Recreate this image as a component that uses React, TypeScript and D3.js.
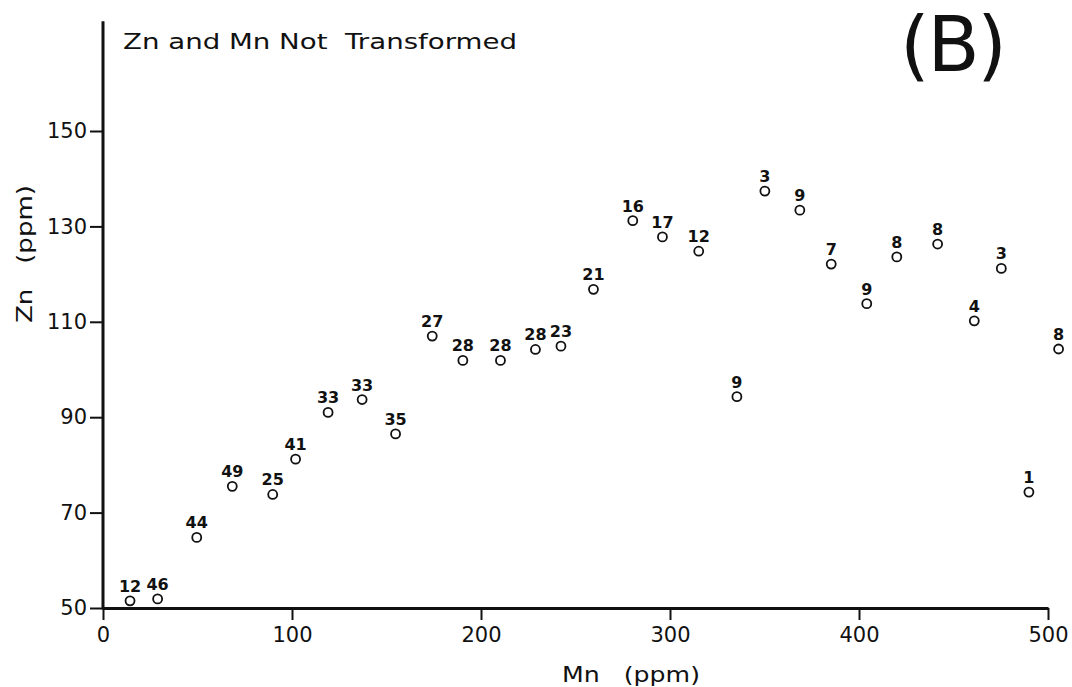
import React, { useEffect, useRef } from 'react';
import * as d3 from 'd3';

// Mn (ppm), Zn (ppm) and number of samples for each plotted mean
const mnValues = [
  14.3, 28.9, 49.6, 68.4, 89.8, 101.9, 119.1, 137.1, 154.8, 174.2, 190.4, 210.3, 228.8, 242.3, 259.5,
  280.3, 296, 315.2, 335.4, 350.2, 368.7, 385.3, 404.1, 420, 441.6, 461, 475.3, 489.9, 505.6,
];
const znValues = [
  51.5, 51.9, 64.8, 75.5, 73.8, 81.2, 91.0, 93.7, 86.5, 107.0, 101.9, 101.9, 104.2, 104.9, 116.8,
  131.2, 127.8, 124.8, 94.3, 137.4, 133.4, 122.1, 113.8, 123.6, 126.3, 110.2, 121.2, 74.3, 104.3,
];
const sampleCounts = [
  12, 46, 44, 49, 25, 41, 33, 33, 35, 27, 28, 28, 28, 23, 21, 16, 17, 12, 9, 3, 9, 7, 9, 8, 8, 4, 3, 1, 8,
];

const xTicks = [0, 100, 200, 300, 400, 500];
const yTicks = [50, 70, 90, 110, 130, 150];

const FONT = "'DejaVu Sans', 'Liberation Sans', sans-serif";

const App = () => {
  const svgRef = useRef<SVGSVGElement>(null);

  useEffect(() => {
    drawChart(svgRef);
  }, [svgRef]);

  return (
    <div style={{ position: 'fixed', left: 0, top: 0, background: '#fff' }}>
      <svg ref={svgRef} width={1072} height={687} style={{ display: 'block' }}></svg>
    </div>
  );
};

function drawChart(svgRef: React.RefObject<SVGSVGElement>) {
  const svg = d3.select(svgRef.current);
  svg.selectAll('*').remove();

  const x = d3.scaleLinear().domain([0, 500]).range([103, 1048]);
  const y = d3.scaleLinear().domain([50, 150]).range([608, 131]);
  const yTop = 173;

  const data = mnValues.map((mn, i) => ({ mn, zn: znValues[i], n: sampleCounts[i] }));

  // X axis
  const xAxis = svg
    .append('g')
    .attr('transform', 'translate(0,' + y(50) + ')')
    .call(d3.axisBottom(x).tickValues(xTicks).tickSize(12).tickSizeOuter(0).tickPadding(7));
  xAxis.select('.domain').attr('stroke', '#111').attr('stroke-width', 3);
  xAxis.selectAll('.tick line').attr('stroke', '#111').attr('stroke-width', 2);
  xAxis
    .selectAll('.tick text')
    .attr('fill', '#111')
    .style('font-family', FONT)
    .style('font-size', '21px');

  // Y axis (domain drawn separately so it can run above the last tick)
  const yAxis = svg
    .append('g')
    .attr('transform', 'translate(' + x(0) + ',0)')
    .call(d3.axisLeft(y).tickValues(yTicks).tickSize(13).tickSizeOuter(0).tickPadding(3));
  yAxis.select('.domain').remove();
  yAxis.selectAll('.tick line').attr('stroke', '#111').attr('stroke-width', 2);
  yAxis
    .selectAll('.tick text')
    .attr('fill', '#111')
    .style('font-family', FONT)
    .style('font-size', '21px');

  svg
    .append('line')
    .attr('x1', x(0))
    .attr('x2', x(0))
    .attr('y1', y(50) + 1.5)
    .attr('y2', y(yTop))
    .attr('stroke', '#111')
    .attr('stroke-width', 3);

  // points
  svg
    .append('g')
    .selectAll('circle')
    .data(data)
    .join('circle')
    .attr('cx', (d) => x(d.mn))
    .attr('cy', (d) => y(d.zn))
    .attr('r', 4.5)
    .attr('fill', '#fff')
    .attr('stroke', '#111')
    .attr('stroke-width', 1.8);

  svg
    .append('g')
    .selectAll('text')
    .data(data)
    .join('text')
    .attr('x', (d) => x(d.mn))
    .attr('y', (d) => y(d.zn) - 9)
    .attr('text-anchor', 'middle')
    .attr('fill', '#111')
    .style('font-family', FONT)
    .style('font-size', '16px')
    .style('font-weight', 'bold')
    .text((d) => d.n);

  // titles
  svg
    .append('text')
    .attr('x', 123)
    .attr('y', 49)
    .attr('textLength', 394)
    .attr('lengthAdjust', 'spacingAndGlyphs')
    .attr('fill', '#111')
    .style('font-family', FONT)
    .style('font-size', '21px')
    .style('white-space', 'pre')
    .text('Zn and Mn Not  Transformed');

  svg
    .append('text')
    .attr('x', 900)
    .attr('y', 71)
    .attr('textLength', 107)
    .attr('lengthAdjust', 'spacing')
    .attr('fill', '#111')
    .style('font-family', FONT)
    .style('font-size', '76px')
    .text('(B)');

  svg
    .append('text')
    .attr('x', 562)
    .attr('y', 682)
    .attr('textLength', 138)
    .attr('lengthAdjust', 'spacingAndGlyphs')
    .attr('fill', '#111')
    .style('font-family', FONT)
    .style('font-size', '22px')
    .style('white-space', 'pre')
    .text('Mn   (ppm)');

  svg
    .append('text')
    .attr('transform', 'translate(32,323) rotate(-90)')
    .attr('textLength', 138)
    .attr('lengthAdjust', 'spacingAndGlyphs')
    .attr('fill', '#111')
    .style('font-family', FONT)
    .style('font-size', '22px')
    .style('white-space', 'pre')
    .text('Zn   (ppm)');
}

export default App;
